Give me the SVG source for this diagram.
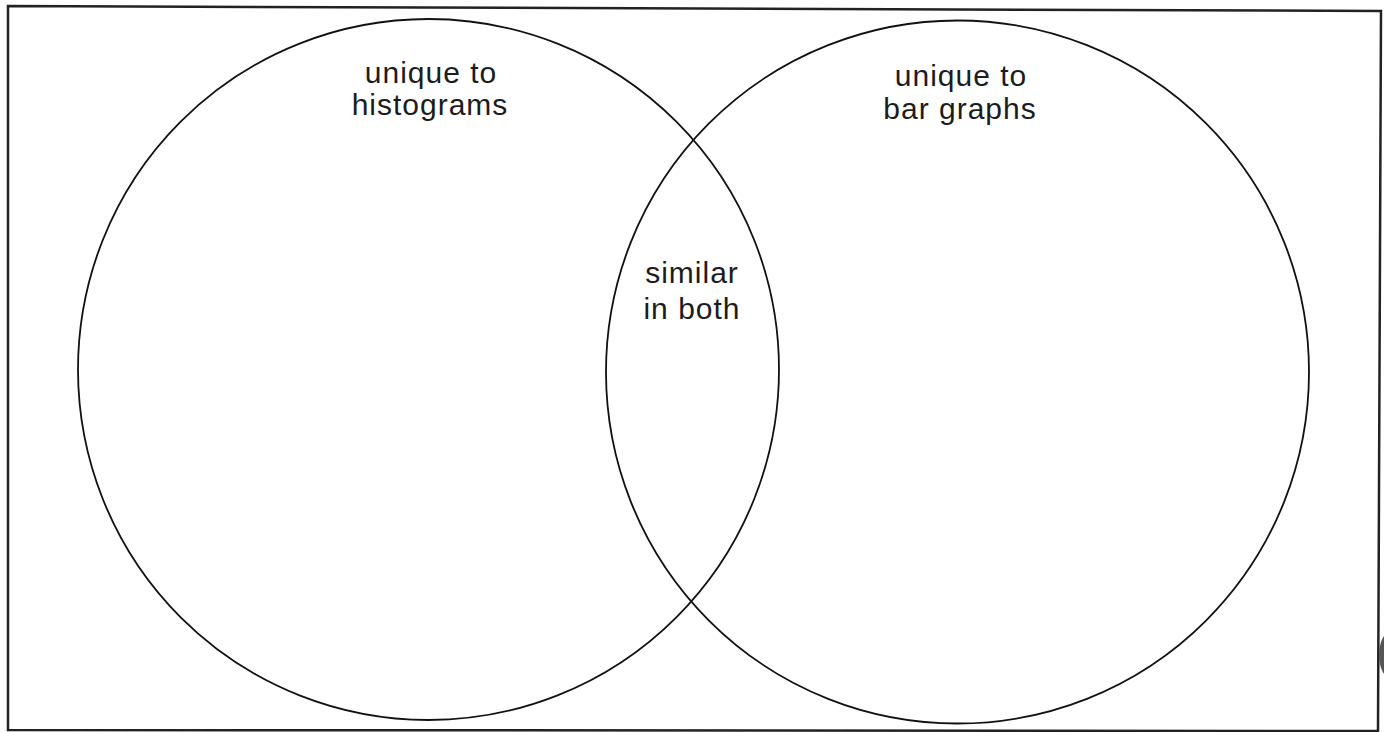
<svg xmlns="http://www.w3.org/2000/svg" width="1384" height="732" viewBox="0 0 1384 732">
<style>
.frame{fill:none;stroke:#222;stroke-width:2.5}
.ring{fill:none;stroke:#111;stroke-width:1.8}
.lbl{font-family:"Liberation Sans",Arial,sans-serif;font-size:30px;letter-spacing:1px;fill:#1c1c1c;text-anchor:middle}
</style>
<rect width="1384" height="732" fill="#fff"/>
<polygon class="frame" points="8,6 1381,11 1378,731 8,730"/>
<g id="histograms">
<circle class="ring" cx="428.5" cy="369.5" r="350.5"/>
<text class="lbl" x="431" y="83">unique to</text>
<text class="lbl" x="430" y="115">histograms</text>
</g>
<g id="bar-graphs">
<circle class="ring" cx="957.5" cy="372" r="351.5"/>
<text class="lbl" x="961" y="86">unique to</text>
<text class="lbl" x="960" y="119">bar graphs</text>
</g>
<g id="both">
<text class="lbl" x="692" y="283">similar</text>
<text class="lbl" x="692" y="319">in both</text>
</g>
<g id="connectors"></g>
<path d="M1384,636 C1378,644 1377,664 1384,674 Z" fill="#555"/>
</svg>
